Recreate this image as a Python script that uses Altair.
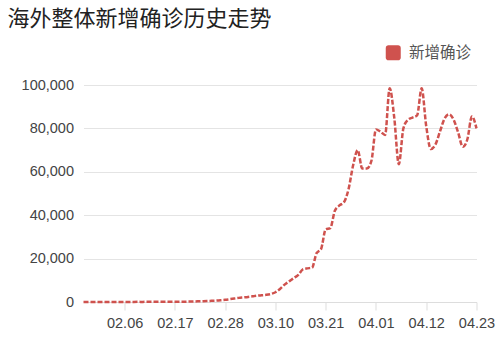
import altair as alt
import pandas as pd

title_text = "海外整体新增确诊历史走势"
series_name = "新增确诊"
start_date = "2020-01-28"

new_cases = [
    15, 20, 25, 30, 25, 30, 40, 35, 45, 40, 50, 45, 60, 55, 70, 60, 80, 90, 100, 110, 95, 120, 130,
    180, 220, 300, 380, 450, 550, 650, 800, 1000, 1300, 1600, 1900, 2100, 2300, 2600, 2900, 3100, 3300, 3700,
    4500, 6000, 8000, 9500, 11000, 12500, 15000, 15500, 15800, 22500, 24500, 33500, 34000, 42000, 44500, 46000, 52000, 63000,
    70000, 61500, 61500, 65000, 79500, 78500, 77000, 98500, 85000, 63500, 80000, 84000, 85000, 86000, 98500, 81000,
    70500, 72500, 78500, 84500, 86500, 84000, 78000, 71500, 75000, 85500, 80000,
]

x_tick_dates = [(2, 6), (2, 17), (2, 28), (3, 10), (3, 21), (4, 1), (4, 12), (4, 23)]
y_ticks = [0, 20000, 40000, 60000, 80000, 100000]

dates = pd.date_range(start_date, periods=len(new_cases), freq="D").strftime("%Y-%m-%d")
df = pd.DataFrame({"date": dates, "value": new_cases, "series": series_name})

cjk = "Noto Sans CJK SC"
latin = "Liberation Sans"
color = "#cf524e"

rounded_square = ("M-0.65,-1H0.65A0.35,0.35,0,0,1,1,-0.65V0.65A0.35,0.35,0,0,1,0.65,1"
                  "H-0.65A0.35,0.35,0,0,1,-1,0.65V-0.65A0.35,0.35,0,0,1,-0.65,-1Z")

def dt(m, d):
    return alt.DateTime(year=2020, month=m, date=d, utc=True)

chart = alt.Chart(df).mark_line(
    interpolate="monotone", strokeWidth=2.5, strokeDash=[5, 2]
).encode(
    x=alt.X(
        "utcyearmonthdate(date):T",
        title=None,
        scale=alt.Scale(domain=[dt(1, 28), dt(4, 23)]),
        axis=alt.Axis(
            values=[dt(m, d) for m, d in x_tick_dates],
            labelExpr="utcFormat(datum.value, '%m.%d')",
            grid=False, domainColor="#dddddd", tickColor="#dddddd", tickSize=8,
            labelFont=latin, labelFontSize=14.5, labelColor="#444444", labelPadding=6,
            labelOverlap=False, labelFlush=False,
        ),
    ),
    y=alt.Y(
        "value:Q",
        title=None,
        scale=alt.Scale(domain=[0, 100000], nice=False),
        axis=alt.Axis(
            values=y_ticks, format=",d", domain=False, ticks=False,
            gridColor="#e4e4e4", labelFont=latin, labelFontSize=14.5,
            labelColor="#444444", labelPadding=10,
        ),
    ),
    color=alt.Color(
        "series:N",
        scale=alt.Scale(range=[color]),
        legend=alt.Legend(
            title=None, orient="none", legendX=302, legendY=-40, padding=0,
            symbolType=rounded_square, symbolSize=225, symbolStrokeWidth=0,
            symbolFillColor=color, labelFont=cjk, labelFontSize=15.5,
            labelColor="#555555", labelOffset=8,
        ),
    ),
).properties(
    width=393,
    height=217,
    title=alt.TitleParams(
        text=title_text, anchor="start", frame="group", dx=-76, offset=14,
        font=cjk, fontSize=22, fontWeight="normal", color="#222222",
    ),
    autosize=alt.AutoSizeParams(type="none"),
    padding={"left": 83.5, "top": 85, "right": 22.5, "bottom": 35},
).configure_view(stroke=None)

chart.save("out.html", embed_options={"renderer": "svg", "actions": False})
